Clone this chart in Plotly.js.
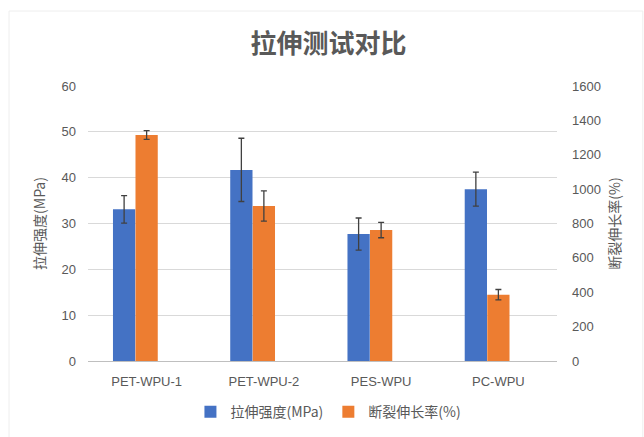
<!DOCTYPE html>
<html>
<head>
<meta charset="utf-8">
<script src="https://cdn.plot.ly/plotly-3.0.1.min.js"></script>
<style>html,body{margin:0;padding:0;background:#fff}#chart{width:644px;height:437px}</style>
</head>
<body>
<div id="chart"></div>
<script>
const categories = ['PET-WPU-1', 'PET-WPU-2', 'PES-WPU', 'PC-WPU'];
const strength = [33.1, 41.7, 27.7, 37.5];
const strengthErr = [3.0, 6.9, 3.5, 3.7];
const elongation = [1315, 902, 762, 386];
const elongationErr = [25, 88, 45, 30];
const seriesNames = ['拉伸强度(MPa)', '断裂伸长率(%)'];

const font = '"Liberation Sans", "Noto Sans CJK SC", sans-serif';
const cjk = '"Noto Sans CJK SC", sans-serif';
const errStyle = {type: 'data', visible: true, color: '#404040', thickness: 1.3, width: 3};

const traces = [
  {
    type: 'bar', name: seriesNames[0], x: categories, y: strength,
    width: 0.19, offset: -0.287,
    marker: {color: '#4472C4'},
    error_y: Object.assign({array: strengthErr}, errStyle),
    yaxis: 'y'
  },
  {
    type: 'bar', name: seriesNames[1], x: categories, y: elongation,
    width: 0.19, offset: -0.095,
    marker: {color: '#ED7D31'},
    error_y: Object.assign({array: elongationErr}, errStyle),
    yaxis: 'y2'
  }
];

const layout = {
  width: 644, height: 437,
  margin: {l: 88, r: 87, t: 86, b: 76},
  paper_bgcolor: '#ffffff', plot_bgcolor: '#ffffff',
  showlegend: true,
  title: {text: '拉伸测试对比', x: 0.51, xanchor: 'center', y: 0.9, yanchor: 'middle',
          font: {family: cjk, size: 26, color: '#595959', weight: 'bold'}},
  xaxis: {
    type: 'category', showgrid: false, showline: true, linecolor: '#bfbfbf', linewidth: 1,
    ticks: '', ticklabelstandoff: 8, automargin: false,
    tickfont: {family: font, size: 13, color: '#595959'}, zeroline: false
  },
  yaxis: {
    range: [0, 60], dtick: 10, showgrid: true, gridcolor: '#d9d9d9', gridwidth: 1,
    zeroline: false, showline: false, ticks: '', ticklabelstandoff: 11, automargin: false,
    tickfont: {family: font, size: 13, color: '#595959'},
    title: {text: '拉伸强度(MPa)', font: {family: cjk, size: 14, color: '#595959'}, standoff: 12}
  },
  yaxis2: {
    range: [0, 1600], dtick: 200, overlaying: 'y', side: 'right', showgrid: false,
    zeroline: false, showline: false, ticks: '', ticklabelstandoff: 14, automargin: false,
    tickfont: {family: font, size: 13, color: '#595959'},
    title: {text: '断裂伸长率(%)', font: {family: cjk, size: 14, color: '#595959'}, standoff: 10}
  },
  legend: {orientation: 'h', xref: 'container', yref: 'container', x: 0.51, xanchor: 'center',
           y: 0.057, yanchor: 'middle',
           font: {family: cjk, size: 14, color: '#595959'}, itemwidth: 30, traceorder: 'normal'},
  shapes: [{type: 'rect', xref: 'paper', yref: 'paper', x0: -0.1684, x1: 1.183, y0: -0.3, y1: 1.2727,
            line: {color: '#eeeeee', width: 1}, fillcolor: 'rgba(0,0,0,0)', layer: 'below'}]
};

Plotly.newPlot('chart', traces, layout, {displayModeBar: false, staticPlot: true});
</script>
</body>
</html>
